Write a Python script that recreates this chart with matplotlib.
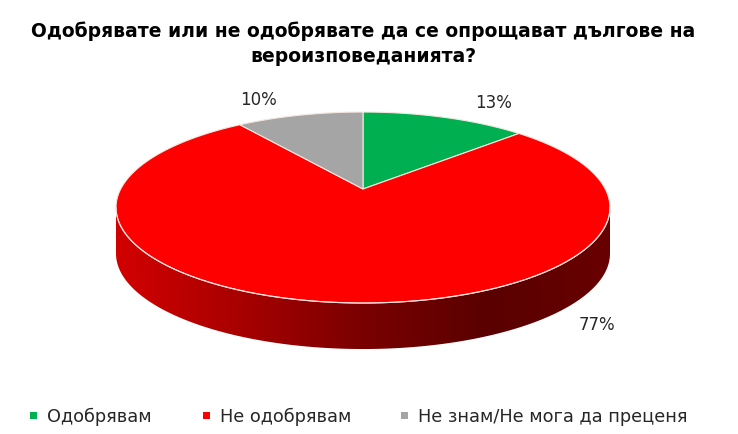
import numpy as np
import matplotlib.pyplot as plt
from matplotlib.patches import Polygon, Rectangle
from matplotlib.colors import LinearSegmentedColormap

categories = ["Одобрявам", "Не одобрявам", "Не знам/Не мога да преценя"]
shares = [13, 77, 10]
labels = ["13%", "77%", "10%"]
colors = ["#00B050", "#FF0000", "#A5A5A5"]
title = "Одобрявате или не одобрявате да се опрощават дългове на\nвероизповеданията?"

# pie geometry in pixel units, with a bit of perspective (back is further away)
cx, cy = 363, 190
sx, sy = 242.3, 91.9
persp = 0.194
depth = 46


def project(phi_deg, dy=0):
    phi = np.radians(phi_deg)
    x, y = np.cos(phi), np.sin(phi)
    w = 1 + persp * y
    return np.column_stack([cx + sx * x / w, cy - sy * y / w + dy])


def rim(a0, a1, n=200, dy=0):
    return project(np.linspace(a0, a1, n), dy)


fig = plt.figure(figsize=(7.38, 4.35), dpi=100)
ax = fig.add_axes([0, 0, 1, 1])
ax.set_xlim(0, 738)
ax.set_ylim(435, 0)
ax.axis("off")

# side of the cake (visible front part is all the big red slice)
edge = np.degrees(np.arcsin(persp))
top_edge = rim(180 + edge, 360 - edge)
bottom_edge = rim(360 - edge, 180 + edge, dy=depth)
side = Polygon(np.vstack([top_edge, bottom_edge]), closed=True,
               facecolor="none", edgecolor="none")
ax.add_patch(side)
cmap = LinearSegmentedColormap.from_list(
    "side", ["#D20000", "#A80000", "#7A0000", "#5A0000", "#680000"])
grad = np.linspace(0, 1, 256).reshape(1, -1)
x0, x1 = top_edge[:, 0].min(), top_edge[:, 0].max()
im = ax.imshow(grad, cmap=cmap, aspect="auto",
               extent=(x0, x1, 360, 190), zorder=1)
im.set_clip_path(side)

# top face, clockwise from 12 o'clock
start = 90.0
total = sum(shares)
for share, col in zip(shares, colors):
    end = start - 360.0 * share / total
    pts = np.vstack([[(cx, cy)], rim(start, end)])
    ax.add_patch(Polygon(pts, closed=True, facecolor=col, edgecolor="#F4E8E0",
                         linewidth=0.8, zorder=2))
    start = end

ax.plot(top_edge[:, 0], top_edge[:, 1], color="#FFE0E0", lw=0.8, zorder=3)

# data labels
label_xy = [(494, 103), (597, 325), (258, 100)]
for txt, (x, y) in zip(labels, label_xy):
    ax.text(x, y, txt, ha="center", va="center", fontsize=12,
            family="DejaVu Sans", color="#262626")

ax.text(363, 44, title, ha="center", va="center", fontsize=13.5,
        fontweight="bold", family="DejaVu Sans", color="black", linespacing=1.4)

# legend
leg_x = [30, 203, 401]
for name, col, x in zip(categories, colors, leg_x):
    ax.add_patch(Rectangle((x, 413), 7, 7, facecolor=col, edgecolor="none"))
    ax.text(x + 17, 417, name, ha="left", va="center", fontsize=12.8,
            family="DejaVu Sans", color="#262626")

fig.savefig("out.png", dpi=100)
